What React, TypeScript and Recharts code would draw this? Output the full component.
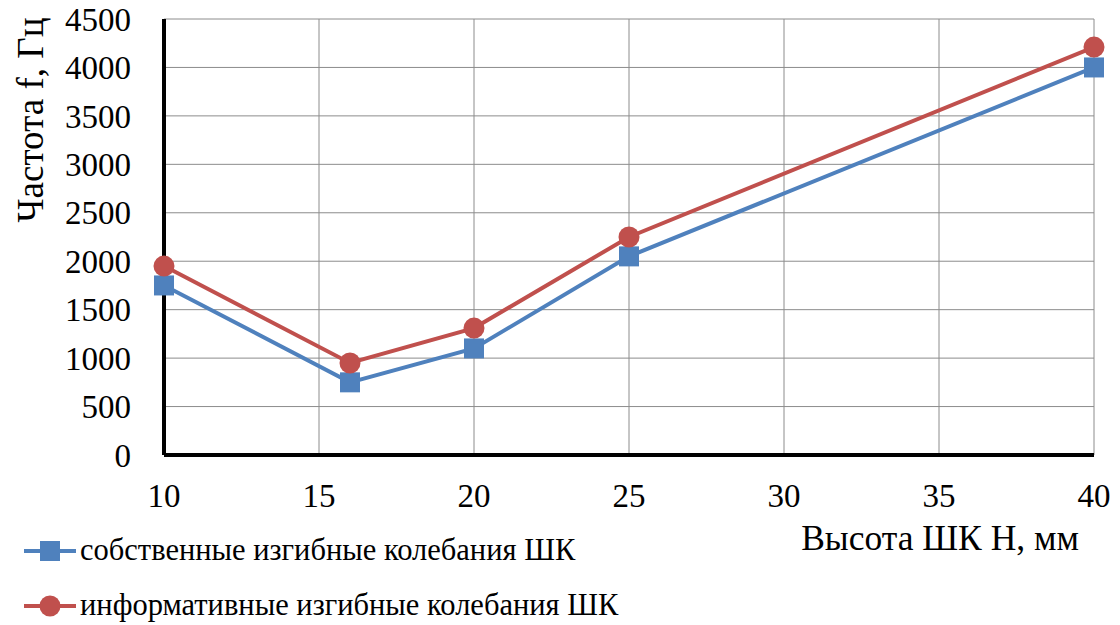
import React from 'react'
import {
  LineChart,
  Line,
  XAxis,
  YAxis,
  CartesianGrid,
  Label
} from 'recharts'

const heights = [10, 16, 20, 25, 40]
const naturalFreq = [1750, 750, 1100, 2050, 4000]
const informativeFreq = [1950, 950, 1310, 2250, 4210]
const xTicks = [10, 15, 20, 25, 30, 35, 40]
const yTicks = [0, 500, 1000, 1500, 2000, 2500, 3000, 3500, 4000, 4500]

const seriesNames = [
  'собственные изгибные колебания ШК',
  'информативные изгибные колебания ШК'
]

const BLUE = '#4F81BD'
const RED = '#C0504D'
const FONT = '"Liberation Serif", "Times New Roman", serif'

const chartData = heights.map((h, i) => ({
  h,
  natural: naturalFreq[i],
  informative: informativeFreq[i]
}))

const SquareDot = (props: any) => {
  const { cx, cy } = props
  if (cx == null || cy == null) return null
  return <rect x={cx - 10} y={cy - 10} width={20} height={20} fill={BLUE} />
}

const CircleDot = (props: any) => {
  const { cx, cy } = props
  if (cx == null || cy == null) return null
  return <circle cx={cx} cy={cy} r={10.5} fill={RED} />
}

// legend sits outside the chart so it doesn't shrink the plot area
const ChartLegend = () => (
  <div style={{ position: 'absolute', left: 22, top: 523, fontFamily: FONT, fontSize: 30.5, color: '#000' }}>
    {seriesNames.map((name, i) => (
      <div key={name} style={{ display: 'flex', alignItems: 'center', height: 55, whiteSpace: 'nowrap' }}>
        <svg width={56} height={24} style={{ marginRight: 2 }}>
          <line x1={2} y1={12} x2={54} y2={12} stroke={i === 0 ? BLUE : RED} strokeWidth={4} />
          {i === 0
            ? <rect x={18} y={2} width={20} height={20} fill={BLUE} />
            : <circle cx={28} cy={12} r={10.5} fill={RED} />}
        </svg>
        <span>{name}</span>
      </div>
    ))}
  </div>
)

const tickStyle = { fontFamily: FONT, fontSize: 33, fill: '#000' }

export default function App() {
  return (
    <div style={{ position: 'relative', width: 1120, height: 625, background: '#fff' }}>
      <style>{`body{margin:0}`}</style>
      <LineChart
        width={1120}
        height={625}
        data={chartData}
        margin={{ top: 19, right: 26, left: 0, bottom: 110 }}
      >
        <CartesianGrid stroke="#8c8c8c" strokeWidth={1} />
        <XAxis
          dataKey="h"
          type="number"
          domain={[10, 40]}
          ticks={xTicks}
          interval={0}
          height={60}
          tickSize={0}
          tickMargin={29}
          tick={tickStyle}
          axisLine={{ stroke: '#000', strokeWidth: 4 }}
          tickLine={false}
        >
          <Label
            content={() => (
              <text x={1079} y={550} textAnchor="end" style={{ ...tickStyle, fontSize: 35.5 }}>
                Высота ШК Н, мм
              </text>
            )}
          />
        </XAxis>
        <YAxis
          type="number"
          domain={[0, 4500]}
          ticks={yTicks}
          interval={0}
          width={164}
          tickSize={0}
          tickMargin={33}
          tick={tickStyle}
          axisLine={{ stroke: '#000', strokeWidth: 4 }}
          tickLine={false}
        >
          <Label
            content={() => (
              <text
                x={30}
                y={120}
                textAnchor="middle"
                dominantBaseline="central"
                transform="rotate(-90 30 120)"
                style={{ ...tickStyle, fontSize: 37 }}
              >
                Частота f, Гц
              </text>
            )}
          />
        </YAxis>
        <Line
          dataKey="natural"
          name={seriesNames[0]}
          stroke={BLUE}
          strokeWidth={4}
          dot={<SquareDot />}
          activeDot={false}
          isAnimationActive={false}
        />
        <Line
          dataKey="informative"
          name={seriesNames[1]}
          stroke={RED}
          strokeWidth={4}
          dot={<CircleDot />}
          activeDot={false}
          isAnimationActive={false}
        />
      </LineChart>
      <ChartLegend />
    </div>
  )
}
